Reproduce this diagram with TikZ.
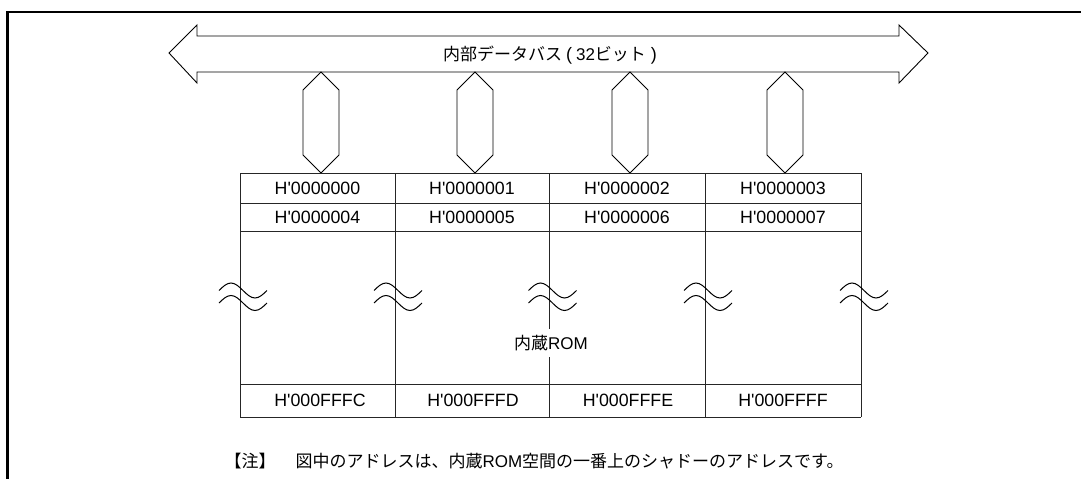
\documentclass[tikz,border=0pt]{standalone}
\usepackage{fontspec}
\setmainfont{Liberation Sans}[Ligatures=TeXOff]
\newfontfamily\cjk{Noto Sans CJK JP}
\begin{document}
\begin{tikzpicture}[x=1pt,y=-1pt,line width=1pt,
  addr/.style={font=\fontsize{17.8}{20}\selectfont,inner sep=0pt},
  jp/.style={font=\cjk\fontsize{17}{20}\selectfont,inner sep=0pt},
  frameline/.style={line width=2.5pt},
  hexlink/.style={line width=0.9pt},
  grid/.style={line width=1pt,draw=black!85},
  wave/.style={line width=1pt}]
\useasboundingbox (0,0) rectangle (1081,479);
% frame
\draw[frameline] (1081,12) -- (7.5,12) -- (7.5,479);
% bus arrow
\draw[hexlink] (169,53) -- (197,25) -- (197,36) -- (899,36) -- (899,25) -- (928,53)
  -- (899,83) -- (899,72) -- (197,72) -- (197,83) -- cycle;
\node[jp] (bus) at (550,55) {内部データバス\hspace{4pt}{\rmfamily\fontsize{18}{20}\selectfont(}\hspace{4pt}{\rmfamily 32}ビット\hspace{5pt}{\rmfamily\fontsize{18}{20}\selectfont)}};
% hexagon links
\foreach \cx in {321,475,630,785}
  \draw[hexlink] (\cx,72) -- (\cx+18,90) -- (\cx+18,155) -- (\cx,173) -- (\cx-18,155) -- (\cx-18,90) -- cycle;
% table lines
\foreach \yy in {173,203,231,384,417}
  \draw[grid] (240,\yy) -- (861,\yy);
\foreach \xx in {240,395,549.5,705,861}
  \draw[grid] (\xx,173) -- (\xx,417);
% waves
\foreach \xx in {240,395,549.5,705,861}
  \foreach \dy in {0,12.5}
    \draw[wave] (\xx-21,290.5+\dy) sin (\xx-9,283+\dy) cos (\xx+3,290.5+\dy) sin (\xx+15,298+\dy) cos (\xx+27,290.5+\dy);
% addresses
\node[addr] (a0) at (317.5,188) {H'0000000};
\node[addr] (a1) at (472,188) {H'0000001};
\node[addr] (a2) at (627,188) {H'0000002};
\node[addr] (a3) at (783,188) {H'0000003};
\node[addr] (a4) at (317.5,217.5) {H'0000004};
\node[addr] (a5) at (472,217.5) {H'0000005};
\node[addr] (a6) at (627,217.5) {H'0000006};
\node[addr] (a7) at (783,217.5) {H'0000007};
\node[addr] (b0) at (320,400.5) {H'000FFFC};
\node[addr] (b1) at (473,400.5) {H'000FFFD};
\node[addr] (b2) at (628,400.5) {H'000FFFE};
\node[addr] (b3) at (783,400.5) {H'000FFFF};
% ROM label
\node[jp,fill=white,inner xsep=2pt,inner ysep=6pt] (rom) at (551,343) {内蔵{\rmfamily ROM}};
% note
\node[jp,anchor=west] (notehead) at (224,461) {【注】};
\node[jp,anchor=east] (notebody) at (844,461) {図中のアドレスは、内蔵{\rmfamily ROM}空間の一番上のシャドーのアドレスです。};
\end{tikzpicture}
\end{document}
